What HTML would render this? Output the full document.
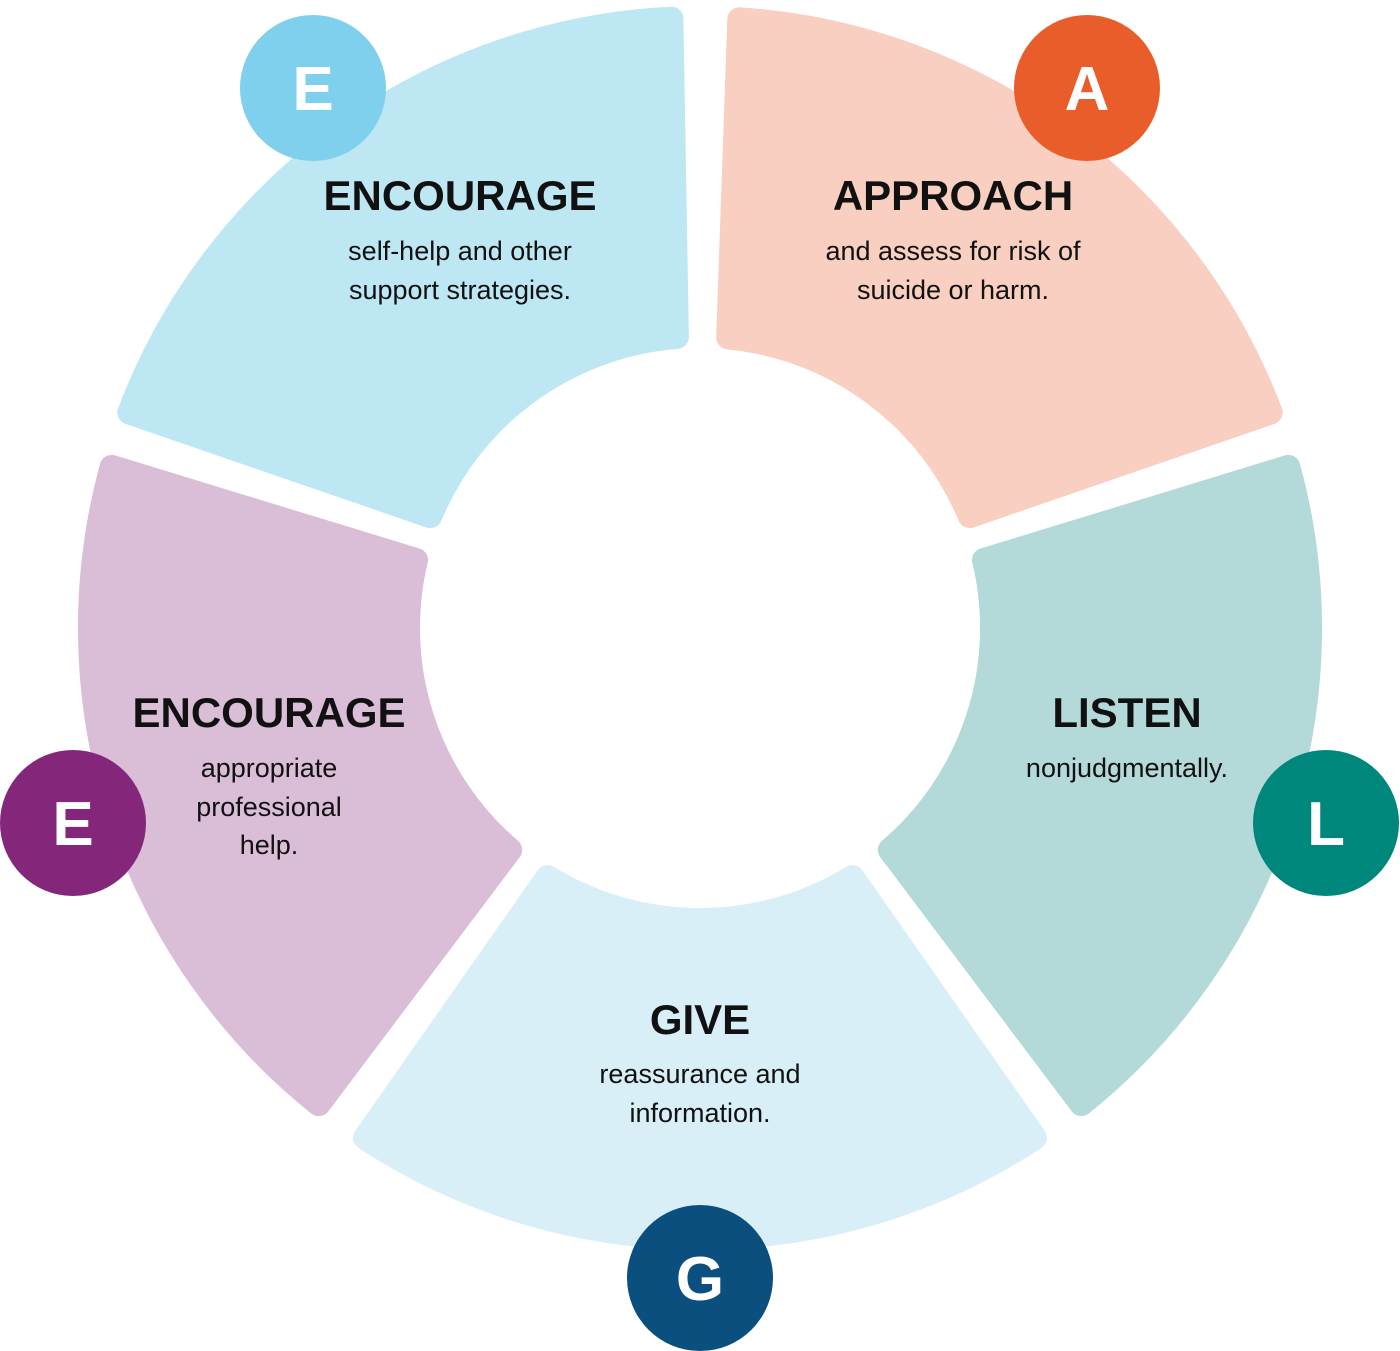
<!DOCTYPE html>
<html><head><meta charset="utf-8">
<style>
html,body{margin:0;padding:0;background:#fff;}
svg{display:block;}
text{font-family:"Liberation Sans",sans-serif;}
.t{font-weight:bold;font-size:42px;fill:#111;text-anchor:middle;}
.b{font-size:27px;fill:#111;text-anchor:middle;}
.c{font-weight:bold;font-size:62px;fill:#fff;text-anchor:middle;}
</style></head><body>
<svg id="s" width="1400" height="1351" viewBox="0 0 1400 1351" xmlns="http://www.w3.org/2000/svg">
<g id="segs"></g>
<text class="t" x="460" y="210">ENCOURAGE</text>
<text class="b" x="460" y="260">self-help and other</text>
<text class="b" x="460" y="299">support strategies.</text>
<text class="t" x="953" y="210">APPROACH</text>
<text class="b" x="953" y="260">and assess for risk of</text>
<text class="b" x="953" y="299">suicide or harm.</text>
<text class="t" x="1127" y="727">LISTEN</text>
<text class="b" x="1127" y="777">nonjudgmentally.</text>
<text class="t" x="700" y="1034">GIVE</text>
<text class="b" x="700" y="1083">reassurance and</text>
<text class="b" x="700" y="1122">information.</text>
<text class="t" x="269" y="727">ENCOURAGE</text>
<text class="b" x="269" y="777">appropriate</text>
<text class="b" x="269" y="816">professional</text>
<text class="b" x="269" y="854">help.</text>
<circle cx="313" cy="88" r="73" fill="#7fd0ec"/><text class="c" x="313" y="110">E</text>
<circle cx="1087" cy="88" r="73" fill="#e95d2b"/><text class="c" x="1087" y="110">A</text>
<circle cx="1326" cy="823" r="73" fill="#00877c"/><text class="c" x="1326" y="845">L</text>
<circle cx="700" cy="1278" r="73" fill="#0a4f7e"/><text class="c" x="700" y="1300">G</text>
<circle cx="73" cy="823" r="73" fill="#84277b"/><text class="c" x="73" y="845">E</text>
</svg>
<script>
(function(){
var cx=700,cy=628,ri=292,ro=610,g=document.getElementById('segs');
var segs=[[-88,-19,'#f8cfc0'],[-17,53,'#b3dad9'],[55,125,'#d8eff7'],[127,197,'#dabdd6'],[199,269,'#bee7f4']];
function p(r,a){a=a*Math.PI/180;return (cx+r*Math.cos(a)).toFixed(1)+' '+(cy+r*Math.sin(a)).toFixed(1);}
segs.forEach(function(s){
var off=18;
var a1o=s[0]+off/ro*57.3,a2o=s[1]-off/ro*57.3,a1i=s[0]+off/ri*57.3,a2i=s[1]-off/ri*57.3;
var d='M'+p(ro,a1o)+' A'+ro+' '+ro+' 0 0 1 '+p(ro,a2o)+' L'+p(ri,a2i)+' A'+ri+' '+ri+' 0 0 0 '+p(ri,a1i)+' Z';
var e=document.createElementNS('http://www.w3.org/2000/svg','path');
e.setAttribute('d',d);e.setAttribute('fill',s[2]);e.setAttribute('stroke',s[2]);
e.setAttribute('stroke-width','24');e.setAttribute('stroke-linejoin','round');g.appendChild(e);
});
})();
</script>
</body></html>
